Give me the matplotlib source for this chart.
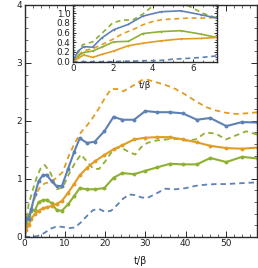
import matplotlib
matplotlib.use("Agg")
import matplotlib.pyplot as plt
from matplotlib.ticker import MultipleLocator, FormatStrFormatter

BLUE = "#5E81B5"
ORANGE = "#E19C24"
GREEN = "#8FB032"

# main panel: solid lines with markers
t_main = [0, 0.4, 1.0, 1.7, 2.6, 3.5, 4.5, 5.5, 6.7, 8.0, 9.3, 10.8, 12.3, 13.7, 15.5,
          17.4, 19.8, 22.1, 24.3, 27.2, 30.0, 33.0, 36.1, 39.3, 42.8, 46.1, 50.1, 54.0, 58.0]
blue_main = [0, 0.33, 0.30, 0.48, 0.74, 0.96, 1.06, 1.07, 0.96, 0.87, 0.88, 1.17, 1.46, 1.70, 1.62,
             1.64, 1.82, 2.07, 2.02, 2.02, 2.17, 2.15, 2.15, 2.13, 2.02, 2.05, 1.91, 1.98, 1.97]
orange_main = [0, 0.12, 0.20, 0.31, 0.40, 0.45, 0.49, 0.51, 0.53, 0.57, 0.62, 0.76, 0.91, 1.06, 1.19,
               1.30, 1.41, 1.51, 1.58, 1.68, 1.71, 1.72, 1.72, 1.68, 1.63, 1.57, 1.53, 1.52, 1.54]
green_main = [0, 0.18, 0.36, 0.45, 0.46, 0.60, 0.63, 0.64, 0.58, 0.46, 0.45, 0.56, 0.70, 0.84, 0.82,
              0.82, 0.84, 1.02, 1.10, 1.08, 1.14, 1.20, 1.26, 1.25, 1.25, 1.36, 1.29, 1.38, 1.35]

# main panel: dashed lines
t_dash = [0, 1, 2, 3, 4, 5, 6.5, 8, 9.5, 11, 12.5, 14, 15.5, 17, 18.5, 20, 21.5, 23, 24.5,
          26, 27.5, 29, 30.5, 32.5, 35, 37.5, 40, 42.5, 45, 47.5, 50, 52.5, 55, 58]
orange_dash = [0, 0.25, 0.55, 0.76, 0.87, 0.92, 0.95, 1.02, 1.12, 1.40, 1.62, 1.80, 1.92, 2.06, 2.22,
               2.40, 2.55, 2.55, 2.51, 2.57, 2.63, 2.70, 2.71, 2.67, 2.62, 2.55, 2.45, 2.34, 2.24,
               2.18, 2.14, 2.12, 2.13, 2.15]
green_dash = [0, 0.55, 0.80, 1.02, 1.18, 1.24, 1.10, 0.82, 0.85, 1.08, 1.27, 1.42, 1.30, 1.18, 1.17,
              1.30, 1.45, 1.54, 1.52, 1.46, 1.42, 1.55, 1.62, 1.66, 1.68, 1.69, 1.66, 1.68, 1.80,
              1.78, 1.68, 1.75, 1.82, 1.76]
blue_dash = [0, 0, 0, 0.01, 0.03, 0.07, 0.14, 0.18, 0.17, 0.15, 0.16, 0.25, 0.36, 0.46, 0.48,
             0.43, 0.45, 0.55, 0.66, 0.73, 0.72, 0.68, 0.67, 0.74, 0.83, 0.82, 0.84, 0.88, 0.90,
             0.91, 0.91, 0.92, 0.93, 0.94]

# inset: early times
t_in = [0, 0.27, 0.55, 1.0, 1.45, 2.05, 2.78, 3.5, 4.4, 5.4, 6.4, 7.2]
blue_in = [0, 0.22, 0.31, 0.30, 0.49, 0.66, 0.77, 0.94, 1.03, 1.05, 0.97, 0.90]
orange_in = [0, 0.07, 0.14, 0.09, 0.15, 0.22, 0.33, 0.38, 0.43, 0.47, 0.48, 0.50]
green_in = [0, 0.12, 0.19, 0.22, 0.30, 0.41, 0.42, 0.58, 0.62, 0.64, 0.57, 0.50]

t_in_dash = [0, 0.5, 1.0, 1.5, 2.0, 2.5, 3.0, 3.5, 4.0, 4.5, 5.0, 5.8, 6.5, 7.2]
green_in_dash = [0, 0.35, 0.41, 0.60, 0.80, 0.86, 0.86, 0.98, 1.15, 1.25, 1.25, 1.15, 1.00, 0.90]
orange_in_dash = [0, 0.22, 0.27, 0.36, 0.46, 0.58, 0.66, 0.76, 0.83, 0.87, 0.88, 0.90, 0.90, 0.91]
blue_in_dash = [0, 0, 0, 0, 0, 0.01, 0.01, 0.02, 0.02, 0.03, 0.05, 0.07, 0.09, 0.12]

FRAME = "#2a2a2a"


def style_frame(ax, size, labelsize):
    for s in ax.spines.values():
        s.set_color(FRAME)
        s.set_linewidth(1.0)
    ax.tick_params(which="both", direction="in", top=True, right=True, colors=FRAME,
                   labelcolor="#222222", labelsize=labelsize, pad=1.5)
    ax.tick_params(which="major", length=size, width=0.7)
    ax.tick_params(which="minor", length=size * 0.55, width=0.5)


fig = plt.figure(figsize=(2.58, 2.68), dpi=100)

ax = fig.add_axes([0.095, 0.1164, 0.901, 0.865])
ax.plot(t_dash, orange_dash, color=ORANGE, lw=1.3, dashes=(3, 2.2))
ax.plot(t_dash, green_dash, color=GREEN, lw=1.3, dashes=(3, 2.2))
ax.plot(t_dash, blue_dash, color=BLUE, lw=1.3, dashes=(3, 2.2))
ax.plot(t_main, green_main, color=GREEN, lw=1.5, marker="o", ms=2.8, mec="none")
ax.plot(t_main, orange_main, color=ORANGE, lw=1.5, marker="o", ms=2.8, mec="none")
ax.plot(t_main, blue_main, color=BLUE, lw=1.5, marker="o", ms=2.8, mec="none")
ax.set_xlim(0, 57.7)
ax.set_ylim(0, 4)
ax.xaxis.set_major_locator(MultipleLocator(10))
ax.xaxis.set_minor_locator(MultipleLocator(2))
ax.yaxis.set_major_locator(MultipleLocator(1))
ax.yaxis.set_minor_locator(MultipleLocator(0.2))
style_frame(ax, 4, 6.5)
ax.set_xlabel("t/β", fontsize=7, color="#222222", labelpad=6)

ins = fig.add_axes([0.2818, 0.7698, 0.558, 0.2116])
ins.plot(t_in_dash, green_in_dash, color=GREEN, lw=1.2, dashes=(3, 2.2))
ins.plot(t_in_dash, orange_in_dash, color=ORANGE, lw=1.2, dashes=(3, 2.2))
ins.plot(t_in_dash, blue_in_dash, color=BLUE, lw=1.2, dashes=(3, 2.2))
ins.plot(t_in, green_in, color=GREEN, lw=1.2, marker="+", ms=2, mew=0.5)
ins.plot(t_in, orange_in, color=ORANGE, lw=1.2, marker="+", ms=2, mew=0.5)
ins.plot(t_in, blue_in, color=BLUE, lw=1.2, marker="+", ms=2, mew=0.5)
ins.set_xlim(0, 7.2)
ins.set_ylim(0, 1.17)
ins.xaxis.set_major_locator(MultipleLocator(2))
ins.xaxis.set_minor_locator(MultipleLocator(0.5))
ins.yaxis.set_major_locator(MultipleLocator(0.2))
ins.yaxis.set_minor_locator(MultipleLocator(0.05))
ins.yaxis.set_major_formatter(FormatStrFormatter("%.1f"))
style_frame(ins, 2.5, 6.3)
ins.set_xlabel("t/β", fontsize=6.5, color="#222222", labelpad=6)

fig.savefig("out.png", dpi=100)
